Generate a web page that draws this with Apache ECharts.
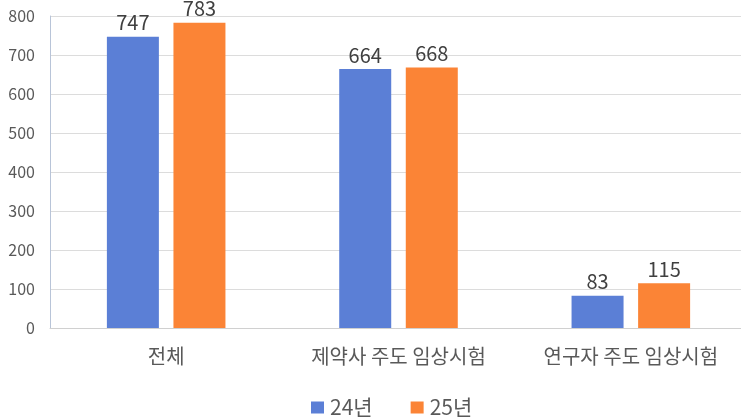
<!DOCTYPE html>
<html>
<head>
<meta charset="utf-8">
<script src="https://cdn.jsdelivr.net/npm/echarts@6/dist/echarts.min.js"></script>
<style>
  html, body {margin: 0; padding: 0; background: #fff;}
  #main {width: 741px; height: 418px;}
</style>
</head>
<body>
<div id="main"></div>
<script>
  // 데이터
  const categories = ['전체', '제약사 주도 임상시험', '연구자 주도 임상시험'];
  const seriesNames = ['24년', '25년'];
  const values24 = [747, 664, 83];
  const values25 = [783, 668, 115];

  const font = "'Noto Sans CJK KR', 'Noto Sans', sans-serif";

  let chart = echarts.init(document.getElementById('main'));
  let option = {
    animation: false,
    textStyle: {fontFamily: font},
    grid: {
      left: 50,
      width: 697,
      top: 16,
      height: 312,
      outerBoundsMode: 'none'
    },
    legend: {
      data: seriesNames,
      top: 392,
      left: 306,
      itemWidth: 13,
      itemHeight: 12,
      itemGap: 38,
      icon: 'rect',
      textStyle: {fontSize: 21, color: '#595959', fontFamily: font, padding: [0, 0, 0, 1]}
    },
    xAxis: {
      type: 'category',
      data: categories,
      axisTick: {show: false},
      axisLine: {lineStyle: {color: '#d0d0d0'}},
      axisLabel: {fontSize: 20, color: '#595959', margin: 18, fontFamily: font}
    },
    yAxis: {
      type: 'value',
      min: 0,
      max: 800,
      interval: 100,
      axisLine: {show: true, lineStyle: {color: '#b8c4d8'}},
      splitLine: {lineStyle: {color: '#dcdcdc'}},
      axisLabel: {fontSize: 16, color: '#595959', margin: 15, fontFamily: font}
    },
    series: [
      {
        name: seriesNames[0],
        type: 'bar',
        data: values24,
        barWidth: 52,
        barGap: '28%',
        itemStyle: {color: '#5b7fd6'},
        label: {show: true, position: 'top', fontSize: 20, color: '#404040', distance: 4, fontFamily: font}
      },
      {
        name: seriesNames[1],
        type: 'bar',
        data: values25,
        barWidth: 52,
        barGap: '28%',
        itemStyle: {color: '#fb8436'},
        label: {show: true, position: 'top', fontSize: 20, color: '#404040', distance: 4, fontFamily: font}
      }
    ]
  };
  chart.setOption(option);
</script>
</body>
</html>
